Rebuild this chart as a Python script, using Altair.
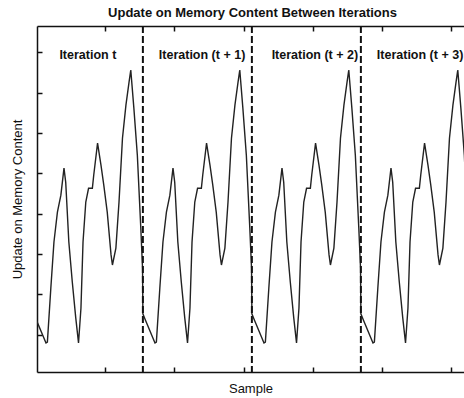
import altair as alt
import pandas as pd

# One iteration of the waveform (offset in samples from the iteration start, value)
cycle_offset = [0.0, 0.6, 3.5, 3.9, 4.9, 5.8, 6.8, 7.8, 8.7, 9.2, 10.1, 11.1, 12.1, 12.9,
                13.6, 14.2, 15.0, 15.8, 16.9, 17.3, 18.4, 19.4, 20.2, 21.2, 22.3, 22.7,
                23.7, 24.6, 25.6, 26.6, 27.5, 28.0, 28.9, 29.9, 30.9, 31.4]
cycle_value = [1.52, 1.39, 0.80, 0.82, 2.16, 3.30, 4.04, 4.46, 5.13, 4.78, 3.30, 2.31, 1.42, 0.80,
               1.66, 3.30, 4.29, 4.63, 4.63, 4.96, 5.75, 5.20, 4.71, 4.04, 2.98, 2.73,
               3.15, 4.29, 5.87, 6.69, 7.26, 7.56, 6.61, 5.45, 3.64, 2.65]

# Start sample of each iteration
iteration_start = [-0.6, 30.9, 62.4, 93.9]
# Dashed separators between iterations
boundary = [30.9, 62.4, 93.9]

label_text = ["Iteration t", "Iteration (t + 1)", "Iteration (t + 2)", "Iteration (t + 3)"]
label_x = [15.0, 48.0, 80.6, 111.0]
label_y = [7.92, 7.92, 7.92, 7.92]

x_ticks = [20, 40, 60, 80, 100, 120]
y_ticks = [1, 2, 3, 4, 5, 6, 7, 8]
x_domain = [0.3, 123.7]
y_domain = [0.08, 8.65]

rows = []
for k, s in enumerate(iteration_start):
    for o, v in zip(cycle_offset, cycle_value):
        rows.append({"sample": s + o, "value": v, "iter": k})
df = pd.DataFrame(rows).sort_values("sample")

bdf = pd.DataFrame({"sample": boundary})
ldf = pd.DataFrame({"sample": label_x, "value": label_y, "label": label_text})
axdf = pd.DataFrame({"sample": [x_domain[0]], "value": [y_domain[0]]})

FONT = "Liberation Sans"
xs = alt.Scale(domain=x_domain, nice=False, zero=False)
ys = alt.Scale(domain=y_domain, nice=False, zero=False)

common_axis = dict(domainColor="#111", domainWidth=1.5, tickColor="#111", tickWidth=1.5,
                   labels=False, grid=False)

line = alt.Chart(df).mark_line(color="#222", strokeWidth=1.4, clip=True).encode(
    x=alt.X("sample:Q", scale=xs,
            axis=alt.Axis(orient="bottom", domain=True, ticks=False, title="Sample",
                          titlePadding=10, titleFont=FONT, titleFontSize=13,
                          titleFontWeight="normal", titleColor="#111", **common_axis)),
    y=alt.Y("value:Q", scale=ys,
            axis=alt.Axis(orient="left", domain=True, ticks=False,
                          title="Update on Memory Content", titlePadding=13,
                          titleFont=FONT, titleFontSize=13, titleFontWeight="normal",
                          titleColor="#111", **common_axis)),
    order="sample:Q",
)

inner_ticks = alt.Chart(axdf).mark_point(opacity=0).encode(
    x=alt.X("sample:Q", scale=xs,
            axis=alt.Axis(orient="bottom", domain=False, ticks=True, tickSize=5, offset=-5,
                          values=x_ticks, title=None, **common_axis)),
    y=alt.Y("value:Q", scale=ys,
            axis=alt.Axis(orient="left", domain=False, ticks=True, tickSize=5, offset=-5,
                          values=y_ticks, title=None, **common_axis)),
)

top_frame = alt.Chart(axdf).mark_point(opacity=0).encode(
    x=alt.X("sample:Q", scale=xs,
            axis=alt.Axis(orient="top", domain=True, ticks=False, title=None, **common_axis)),
    y=alt.Y("value:Q", scale=ys, axis=None),
)

top_ticks = alt.Chart(axdf).mark_point(opacity=0).encode(
    x=alt.X("sample:Q", scale=xs,
            axis=alt.Axis(orient="top", domain=False, ticks=True, tickSize=5, offset=-5,
                          values=x_ticks, title=None, **common_axis)),
    y=alt.Y("value:Q", scale=ys, axis=None),
)

rules = alt.Chart(bdf).mark_rule(color="#111", strokeWidth=2, strokeDash=[7, 3]).encode(
    x=alt.X("sample:Q", scale=xs, axis=None),
)

labels = alt.Chart(ldf).mark_text(font=FONT, fontSize=12.5, fontWeight="bold",
                                  color="#111", align="center", baseline="middle").encode(
    x=alt.X("sample:Q", scale=xs, axis=None),
    y=alt.Y("value:Q", scale=ys, axis=None),
    text="label:N",
)

chart = alt.layer(line, inner_ticks, top_frame, top_ticks, rules, labels).resolve_axis(
    x="independent", y="independent"
).properties(
    width=427, height=346,
    title=alt.Title("Update on Memory Content Between Iterations", font=FONT, fontSize=13,
                    fontWeight="bold", color="#111", anchor="middle", frame="group",
                    offset=5, dx=2),
    autosize=alt.AutoSizeParams(type="none"),
    padding={"left": 37, "top": 26, "right": 0, "bottom": 26},
    background="white",
).configure_view(stroke=None)

chart.save("out.html", embed_options={"renderer": "svg", "actions": False})
